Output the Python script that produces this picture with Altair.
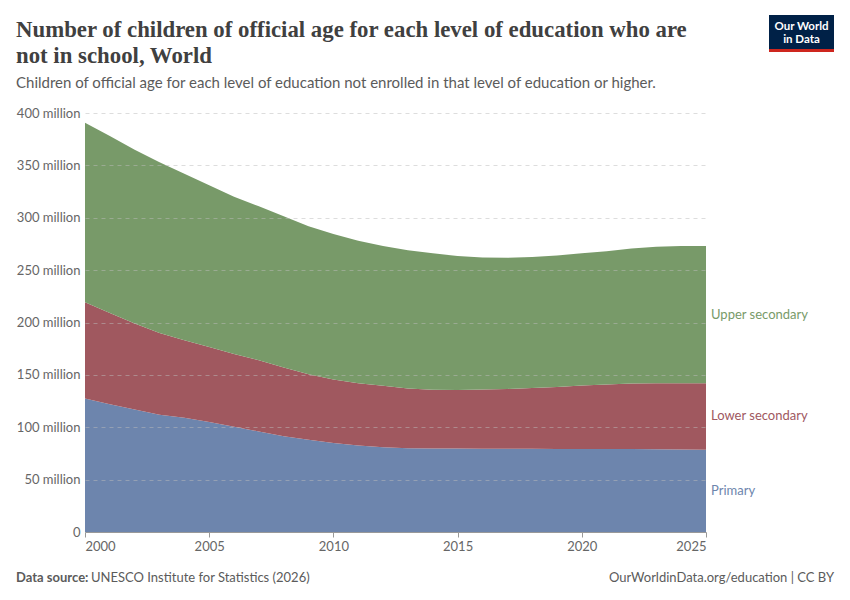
import altair as alt
import pandas as pd

years = list(range(2000, 2026))
primary = [127.4, 122, 117, 112, 109, 105, 100.5, 96, 91.5, 88, 85, 82.5, 81, 80,
           79.7, 79.6, 79.5, 79.5, 79.4, 79.3, 79.3, 79.2, 79.2, 79, 78.8, 78.6]
lower_secondary = [92.0, 87.0, 82.0, 78.0, 74.0, 71.5, 69.5, 68.0, 65.5, 62.5, 60.5, 59.5,
                   58.5, 57.0, 56.1, 55.9, 56.5, 57.1, 58.1, 59.2, 60.5, 61.5, 62.5, 63.0,
                   63.2, 63.4]
upper_secondary = [171.4, 169, 166, 163, 159, 154.5, 150, 147, 144.5, 141.5, 139, 136,
                   133.5, 132, 130.2, 128, 126, 125.2, 125, 125.5, 126.2, 127.3, 129,
                   130.3, 131, 131]

levels = ["Primary", "Lower secondary", "Upper secondary"]
area_colors = ["#6d85ad", "#a0585f", "#789a69"]
label_colors = ["#4a6aa0", "#8c3540", "#5a8a48"]
x_ticks = [2000, 2005, 2010, 2015, 2020, 2025]
y_ticks = [0, 50, 100, 150, 200, 250, 300, 350, 400]

title_lines = ["Number of children of official age for each level of education who are",
               "not in school, World"]
subtitle = "Children of official age for each level of education not enrolled in that level of education or higher."

rows = []
for i, y in enumerate(years):
    for k, (lvl, vals) in enumerate(zip(levels, [primary, lower_secondary, upper_secondary])):
        rows.append({"year": y, "level": lvl, "value": vals[i], "order": k})
df = pd.DataFrame(rows)

W, H = 621, 419
FONT = "Lato"

xscale = alt.Scale(domain=[2000, 2025], nice=False, zero=False)
yscale = alt.Scale(domain=[0, 400], nice=False)
color = alt.Color("level:N", scale=alt.Scale(domain=levels, range=area_colors), legend=None)

base = alt.Chart(df).transform_stack(
    stack="value", groupby=["year"], as_=["y0", "y1"],
    sort=[alt.SortField("order", order="ascending")]
)

area = base.mark_area(opacity=1, interpolate="linear").encode(
    x=alt.X("year:Q", scale=xscale, title=None,
            axis=alt.Axis(values=x_ticks, format="d", grid=False, labelFont=FONT,
                          labelFontSize=13, labelColor="#666", tickColor="#999",
                          domainColor="#999", tickSize=5, labelPadding=3, zindex=1,
                          labelAlign=alt.ExprRef("datum.value == 2000 ? 'left' : (datum.value == 2025 ? 'right' : 'center')"))),
    y=alt.Y("y0:Q", scale=yscale, title=None,
            axis=alt.Axis(values=y_ticks, grid=True, gridDash=[4, 4], gridColor="#bbbbbb",
                          gridOpacity=0.5, zindex=1,
                          domain=False, ticks=False, labelFont=FONT, labelFontSize=13,
                          labelColor="#666", labelPadding=5,
                          labelExpr="datum.value == 0 ? '0' : datum.value + ' million'")),
    y2="y1:Q",
    color=color,
    order=alt.Order("order:Q"),
)

labels = base.transform_filter(alt.datum.year == 2025).transform_calculate(
    mid="(datum.y0 + datum.y1) / 2"
).mark_text(align="left", baseline="middle", dx=5, font=FONT, fontSize=13).encode(
    x=alt.X("year:Q", scale=xscale),
    y=alt.Y("mid:Q", scale=yscale),
    text="level:N",
    color=alt.Color("level:N", scale=alt.Scale(domain=levels, range=label_colors), legend=None),
)

def txt(s, x, y, **kw):
    return alt.Chart(pd.DataFrame({"t": [s]})).mark_text(**kw).encode(
        x=alt.value(x), y=alt.value(y), text="t:N")

t1 = txt(title_lines[0], -69, -76, align="left", baseline="alphabetic",
         font="Liberation Serif", fontSize=22.8, fontWeight="bold", color="#404040")
t2 = txt(title_lines[1], -69, -50.5, align="left", baseline="alphabetic",
         font="Liberation Serif", fontSize=22.8, fontWeight="bold", color="#404040")
st = txt(subtitle, -69, -25, align="left", baseline="alphabetic",
         font=FONT, fontSize=15, color="#5b5b5b")
f1 = txt("Data source:", -69, 469, align="left", baseline="alphabetic",
         font=FONT, fontSize=13, fontWeight="bold", color="#5b5b5b")
f2 = txt("UNESCO Institute for Statistics (2026)", 6, 469, align="left", baseline="alphabetic",
         font=FONT, fontSize=13, color="#5b5b5b")
f3 = txt("OurWorldinData.org/education | CC BY", 749, 469, align="right", baseline="alphabetic",
         font=FONT, fontSize=13, color="#5b5b5b")

logo_df = pd.DataFrame({"a": [0]})
logo_box = alt.Chart(logo_df).mark_rect(color="#002147").encode(
    x=alt.value(684), x2=alt.value(749), y=alt.value(-98), y2=alt.value(-64))
logo_red = alt.Chart(logo_df).mark_rect(color="#ce261e").encode(
    x=alt.value(684), x2=alt.value(749), y=alt.value(-64), y2=alt.value(-61))
l1 = txt("Our World", 716.5, -83, align="center", baseline="alphabetic",
         font=FONT, fontSize=11.5, fontWeight="bold", color="white")
l2 = txt("in Data", 716.5, -70, align="center", baseline="alphabetic",
         font=FONT, fontSize=11.5, fontWeight="bold", color="white")

chart = alt.layer(area, labels, t1, t2, st, f1, f2, f3, logo_box, logo_red, l1, l2).properties(
    width=W, height=H,
    padding={"left": 77, "top": 105, "right": 136, "bottom": 52},
    autosize=alt.AutoSizeParams(type="none"),
    background="white",
).configure_view(stroke="transparent", strokeWidth=0)

chart.save("out.html", embed_options={"renderer": "svg", "actions": False})
